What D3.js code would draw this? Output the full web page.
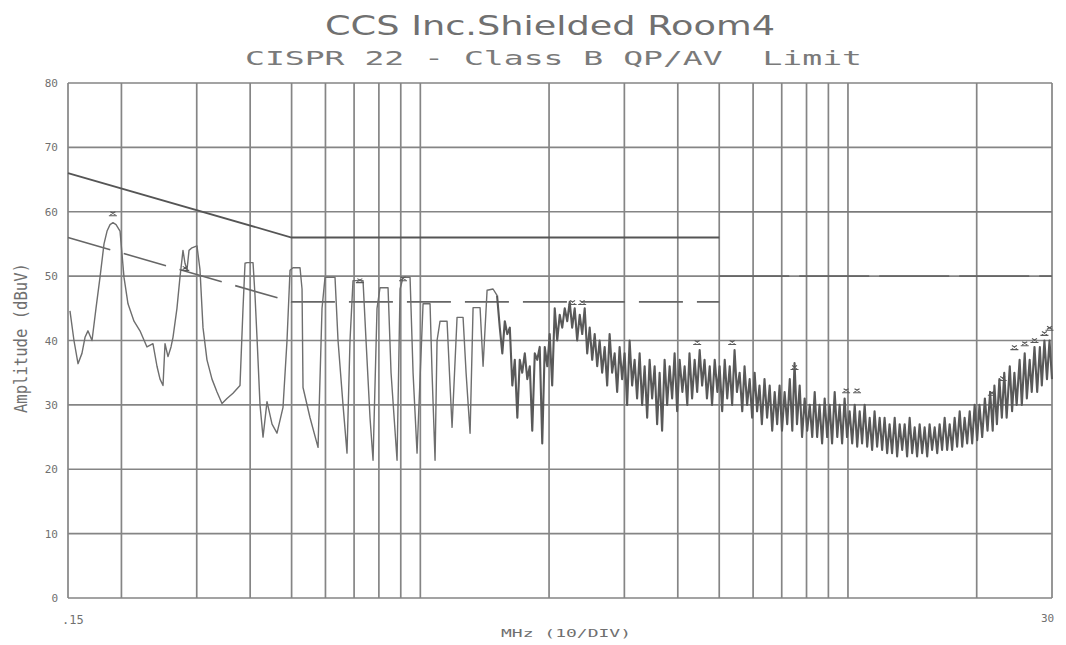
<!DOCTYPE html>
<html><head><meta charset="utf-8">
<script src="https://cdn.jsdelivr.net/npm/d3@7"></script>
<style>body{margin:0;background:#fff}svg{display:block}</style>
</head><body><svg id="c" width="1066" height="645"></svg>
<script>
// ---- data (MHz, dBuV) ----
const lowFreq = [0.1516,0.1549,0.1583,0.1617,0.1644,0.1670,0.1707,0.1744,0.1782,0.1821,0.1851,0.1881,0.1911,0.1943,0.1985,0.2028,0.2072,0.2140,0.2210,0.2295,0.2370,0.2422,0.2462,0.2502,0.2529,0.2570,0.2612,0.2640,0.2697,0.2741,0.2786,0.2816,0.2847,0.2878,0.2924,0.3004,0.3053,0.3103,0.3170,0.3257,0.3346,0.3437,0.3531,0.3647,0.3787,0.3849,0.3891,0.3933,0.4062,0.4106,0.4150,0.4218,0.4287,0.4380,0.4500,0.4622,0.4774,0.4878,0.4958,0.5038,0.5232,0.5289,0.5317,0.5522,0.5765,0.5890,0.5986,0.6317,0.6420,0.6595,0.6738,0.6848,0.6960,0.7345,0.7465,0.7627,0.7752,0.7920,0.8049,0.8404,0.8541,0.8822,0.8966,0.9112,0.9462,0.9616,0.9825,1.0148,1.0537,1.0651,1.0825,1.0942,1.1120,1.1548,1.1736,1.1863,1.2187,1.2587,1.2793,1.3071,1.3284,1.3794,1.4019,1.4325,1.4792,1.5114];
const lowDb = [44.6,40,36.4,38,40.5,41.5,40,45,49.8,55,57,58,58.3,58,57,49.8,45.7,43,41.5,39,39.5,36,34,33,39.5,37.5,39,40.5,45,49.8,54,52,51,54,54.4,54.7,51,42,37,34,32,30.2,31,31.8,33,45,52,52.1,52.1,47,40.5,30,25,30.5,27,25.6,29.6,40,50.9,51.3,51.3,48,32.7,28,23.4,45,49.8,49.8,40,30,22.5,40,49.3,49.3,40,28,21.4,45,48.2,48.2,35,21.4,48,49.8,49.8,35,22.5,45.7,45.7,35,21.4,40,43,43,33,26.5,43.6,43.6,35,25.6,45.1,45.1,36,47.8,48,47];

const noiseFreq = [1.534,1.555,1.576,1.597,1.619,1.641,1.663,1.686,1.708,1.731,1.755,1.779,1.803,1.827,1.852,1.877,1.902,1.928,1.954,1.981,2.007,2.034,2.062,2.090,2.118,2.147,2.176,2.206,2.235,2.265,2.296,2.327,2.359,2.391,2.423,2.456,2.489,2.523,2.557,2.592,2.626,2.662,2.698,2.735,2.771,2.809,2.847,2.886,2.924,2.964,3.004,3.045,3.086,3.128,3.170,3.213,3.257,3.301,3.346,3.392,3.437,3.484,3.531,3.579,3.627,3.676,3.726,3.777,3.828,3.880,3.932,3.986,4.04,4.10,4.15,4.21,4.26,4.32,4.38,4.44,4.50,4.56,4.62,4.68,4.75,4.81,4.88,4.95,5.01,5.08,5.15,5.22,5.29,5.36,5.43,5.50,5.58,5.66,5.73,5.81,5.89,5.97,6.05,6.13,6.21,6.29,6.38,6.47,6.56,6.65,6.74,6.83,6.92,7.01,7.11,7.21,7.31,7.41,7.50,7.60,7.71,7.81,7.92,8.03,8.14,8.25,8.36,8.47,8.58,8.70,8.82,8.94,9.06,9.18,9.31,9.44,9.56,9.69,9.82,9.95,10.09,10.23,10.37,10.51,10.65,10.79,10.94,11.09,11.24,11.39,11.54,11.70,11.86,12.02,12.18,12.35,12.51,12.68,12.86,13.03,13.21,13.39,13.57,13.75,13.94,14.13,14.32,14.51,14.71,14.91,15.11,15.32,15.52,15.73,15.95,16.17,16.38,16.60,16.83,17.06,17.29,17.52,17.76,18.00,18.25,18.50,18.74,19.00,19.26,19.52,19.78,20.05,20.3,20.6,20.9,21.2,21.5,21.8,22.0,22.3,22.6,22.9,23.2,23.5,23.9,24.2,24.5,24.8,25.2,25.5,25.9,26.2,26.6,26.9,27.3,27.7,28.1,28.4,28.8,29.2,29.6,30.0];
const noiseDb = [42,38,43,41,42,33,37,28,37,35,38,34,36,26,38,37,39,24,39,36,41,33,45,40,44,42,45,43,46,42,45,40,44,41,45,38,42,37,41,36,40,35,39,33,41,35,38,32,39,34,38,30,40,33,37,31,38,30,36,28,37,31,36,27,35,26,37,30,36,31,38,29,37,32,36,30,38,31,37,32,38.5,33,37,31,36,30,37,32,36,29,37,31,36,30,38.5,32,35,29,36,30,34,28,35,29,33,27,34,28,33,26,32,27,33,26,32,27,34,26,36.5,27,33,25,31,26,30,25,32,25,30,24,31,25,30,24,32,25,30,24,31,25,29,24,30,23.5,29,24,30,23.5,28,23,29,23.5,28,23,28,22.5,27,22.5,28,22,27,23,27,22,28,22.5,26.5,22,27,22.5,26.5,22,27,23,26.5,22.5,27,23,28,23,27,23,28,23.5,29,23.5,28,24,29,24,30,24.5,30,25,31,26,32,26,33,27,34,28,35,28,36,29,35,30,37,30,38,31,37,32,39,32,39,33,40,34,40,34];

const markerFreq = [0.191,0.282,0.722,0.911,2.27,2.39,4.44,5.36,7.50,9.9,10.5,21.7,23.0,24.5,25.9,27.3,28.8,29.6];
const markerDb   = [59.7,51.2,49.3,49.6,45.9,45.9,39.7,39.7,35.8,32.2,32.2,31.8,34.1,38.9,39.5,40.0,41.1,41.9];

const qpFreq = [0.15,0.5,5];   const qpDb = [66,56,56];
const qpHiFreq = [5,30];       const qpHiDb = [60,60];
const avFreq = [0.15,0.5,5];   const avDb = [56,46,46];
const avHiFreq = [5,30];       const avHiDb = [50,50];

const yTicks = [0,10,20,30,40,50,60,70,80];
const xGrid = [0.2,0.3,0.4,0.5,0.6,0.7,0.8,0.9,1,2,3,4,5,6,7,8,9,10,20];

// ---- drawing ----
const svg = d3.select("#c");
const x = d3.scaleLog().domain([0.15,30]).range([68,1052]);
const y = d3.scaleLinear().domain([0,80]).range([598,83]);
const gridCol = "#858585", txtCol = "#707070";

svg.append("rect").attr("width",1066).attr("height",645).attr("fill","#fff");

// titles
svg.append("text").text("CCS Inc.Shielded Room4")
  .attr("x",325).attr("y",35).attr("textLength",450).attr("lengthAdjust","spacingAndGlyphs")
  .attr("font-family","DejaVu Sans").attr("font-size",27).attr("fill",txtCol);
svg.append("text").text("CISPR 22 - Class B QP/AV  Limit")
  .attr("x",245).attr("y",65).attr("textLength",617).attr("lengthAdjust","spacingAndGlyphs")
  .attr("font-family","DejaVu Sans Mono").attr("font-size",20).attr("fill","#7a7a7a")
  .style("white-space","pre").attr("xml:space","preserve");

// grid
const g = svg.append("g");
g.selectAll("line.h").data(yTicks).join("line")
  .attr("x1",x(0.15)).attr("x2",x(30)).attr("y1",d=>y(d)).attr("y2",d=>y(d))
  .attr("stroke",gridCol).attr("stroke-width",1.7);
g.selectAll("line.v").data(xGrid.concat([0.15,30])).join("line")
  .attr("x1",d=>x(d)).attr("x2",d=>x(d)).attr("y1",y(0)).attr("y2",y(80))
  .attr("stroke",gridCol).attr("stroke-width",1.7);

// axis labels
const yAxis = d3.axisLeft(y).tickValues(yTicks).tickSize(0).tickPadding(10);
const ya = svg.append("g").attr("transform",`translate(${x(0.15)},0)`).call(yAxis);
ya.select(".domain").remove();
ya.selectAll("text").attr("font-family","DejaVu Sans Mono").attr("font-size",11).attr("fill",txtCol);

svg.append("text").text(".15").attr("x",62).attr("y",624)
  .attr("font-family","DejaVu Sans Mono").attr("font-size",12).attr("fill",txtCol);
svg.append("text").text("30").attr("x",1041).attr("y",622)
  .attr("font-family","DejaVu Sans Mono").attr("font-size",11).attr("fill",txtCol);
svg.append("text").text("MHz (10/DIV)").attr("x",501).attr("y",637)
  .attr("textLength",130).attr("lengthAdjust","spacingAndGlyphs")
  .attr("font-family","DejaVu Sans Mono").attr("font-size",10).attr("fill",txtCol);
svg.append("text").text("Amplitude (dBuV)")
  .attr("transform","translate(27,413) rotate(-90)")
  .attr("textLength",150).attr("lengthAdjust","spacingAndGlyphs")
  .attr("font-family","DejaVu Sans Mono").attr("font-size",17).attr("fill",txtCol);

// limit lines
const line = d3.line().x(d=>x(d[0])).y(d=>y(d[1]));
const lim = svg.append("g").attr("fill","none");
lim.append("path").attr("d",line(d3.zip(qpFreq,qpDb))).attr("stroke","#555").attr("stroke-width",1.8);
lim.append("path").attr("d",line(d3.zip(qpHiFreq,qpHiDb))).attr("stroke","#7a7a7a").attr("stroke-width",1.6);
lim.append("path").attr("d",line(d3.zip(avFreq,avDb))).attr("stroke","#666").attr("stroke-width",1.6).attr("stroke-dasharray","44,14");
lim.append("path").attr("d",line(d3.zip(avHiFreq,avHiDb))).attr("stroke","#666").attr("stroke-width",1.6).attr("stroke-dasharray","70,10");

// trace
svg.append("path").attr("d",line(d3.zip(lowFreq,lowDb)))
  .attr("fill","none").attr("stroke","#6e6e6e").attr("stroke-width",1.4).attr("stroke-linejoin","round");
svg.append("path").attr("d",line([[lowFreq[lowFreq.length-1],lowDb[lowDb.length-1]]].concat(d3.zip(noiseFreq,noiseDb))))
  .attr("fill","none").attr("stroke","#595959").attr("stroke-width",2.1).attr("stroke-linejoin","round");

// peak markers
const mk = svg.append("g").attr("stroke","#5a5a5a").attr("stroke-width",1.1).attr("fill","none");
d3.zip(markerFreq,markerDb).forEach(([f,v])=>{
  const cx = x(f), cy = y(v);
  mk.append("path").attr("d",`M${cx-4},${cy+2}L${cx+4},${cy+2}M${cx-2.5},${cy-2}L${cx+2.5},${cy+1}M${cx+2.5},${cy-2}L${cx-2.5},${cy+1}`);
});
</script></body></html>
